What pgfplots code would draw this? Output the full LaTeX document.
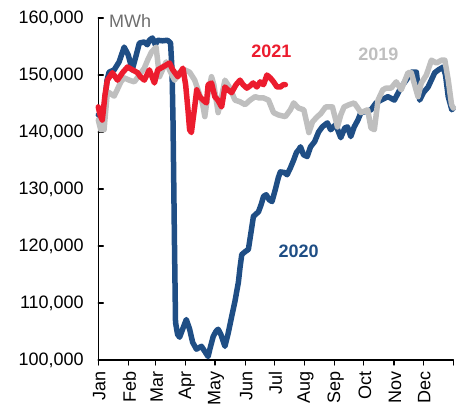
\documentclass[border=0pt]{standalone}
\usepackage{pgfplots}
\pgfplotsset{compat=1.18}
\usepackage{fontspec}
\setmainfont{Liberation Sans}
\definecolor{c2020}{HTML}{1F4E85}
\definecolor{c2021}{HTML}{EC1C2E}
\definecolor{c2019}{HTML}{BFBFBF}
\definecolor{cmwh}{HTML}{6E6E6E}
\begin{document}
\begin{tikzpicture}
\begin{axis}[
  at={(0,0)}, anchor=south west,
  scale only axis, width=355pt, height=342pt,
  xmin=0, xmax=365, ymin=100000, ymax=160000,
  axis x line*=bottom, axis y line*=left,
  axis line style={line width=1.3pt, -},
  tick align=inside, major tick length=5pt,
  tick style={line width=1.3pt, black},
  xtick style={yshift=-5pt},
  xtick={0,31,59,90,120,151,181,212,243,273,304,334,365},
  xticklabels={Jan,Feb,Mar,Apr,May,Jun,Jul,Aug,Sep,Oct,Nov,Dec,{}},
  xticklabel style={rotate=90, anchor=east, yshift=-1pt, xshift=-8pt},
  ytick={100000,110000,120000,130000,140000,150000,160000},
  yticklabels={{100,000},{110,000},{120,000},{130,000},{140,000},{150,000},{160,000}},
  scaled y ticks=false,
  yticklabel style={xshift=-11pt},
  ticklabel style={font=\fontsize{18}{20}\selectfont},
  clip=false,
  line join=round, line cap=round,
]
% 2020
\addplot[c2020, line width=5.5pt] coordinates {
(0,143000) (4.9,142500) (9.0,149100) (11.1,150500) (16.3,150900) (21.4,152300)
(26.6,154900) (30.8,153500) (34.9,150900) (39.0,153500) (42.2,155600) (47.3,155800)
(50.4,155300) (52.5,156100) (55.6,156500) (58.7,155300) (60.8,156100) (66.0,156000)
(71.2,156100) (74.3,155600) (75.8,150900) (76.8,142100) (78.4,119400) (79.4,106600)
(81.5,104500) (83.6,104000) (86.7,105400) (90.5,107100) (93.9,105400) (97.0,103100)
(100.9,101900) (106.1,102400) (109.5,101500) (112.9,100600) (114.7,101900) (118.1,104100)
(120.9,105000) (123.2,105400) (126.0,104500) (130.2,102400) (133.3,104500) (137.1,107600)
(140.5,110300) (144.0,113600) (145.7,116200) (147.5,118500) (150.9,119000) (154.3,119400)
(157.1,122500) (159.5,125200) (164.7,126000) (167.5,127300) (169.9,128700) (172.6,129000)
(175.8,128100) (178.6,127800) (182.0,129900) (185.1,132000) (187.2,133000) (191.3,132900)
(194.1,132500) (197.5,133700) (200.9,135100) (203.7,136400) (206.1,136900) (207.9,137400)
(211.0,136000) (214.8,135700) (218.2,137400) (222.4,138300) (226.5,140000) (230.3,140900)
(235.5,141600) (238.9,140400) (244.1,141300) (249.3,139000) (253.4,140700) (256.2,140900)
(259.6,139200) (263.1,140900) (266.9,142100) (270.0,143400) (275.2,143600) (280.4,143900)
(285.5,145100) (290.7,145600) (297.7,146200) (304.5,145600) (311.4,147900) (316.6,149100)
(321.8,150500) (327.0,150500) (330.4,145600) (334.2,146900) (339.1,147900) (345.9,150400)
(349.7,150900) (354.6,151400) (357.0,150000) (359.8,146200) (363.5,143900) (365,144200)
};
% 2019
\addplot[c2019, line width=5.5pt] coordinates {
(0,142100) (2.5,140400) (5.9,140400) (9.3,147000) (11.1,146900) (16.3,146300)
(19.4,147400) (23.2,148800) (26.6,149500) (31.8,149100) (37.0,148800) (42.2,150000)
(47.3,151200) (50.7,152600) (54.6,154000) (59.4,154900) (62.9,149700) (66.0,150900)
(69.8,152300) (73.2,150900) (78.4,149100) (83.6,150500) (88.8,150900) (93.9,150500)
(99.1,149100) (104.3,146500) (107.4,144800) (109.5,142700) (112.6,146500) (116.4,149700)
(118.8,148300) (123.2,143400) (127.1,146500) (130.2,149100) (135.4,147700) (140.5,145600)
(145.7,145300) (150.9,144800) (156.1,145600) (161.3,146200) (164.7,146000) (169.5,146000)
(175.0,145600) (180.2,143400) (185.1,143000) (192.3,142700) (197.5,143900) (200.9,145100)
(205.8,144200) (211.3,143900) (214.1,141800) (216.5,139900) (220.3,141800) (225.2,142700)
(228.6,143200) (233.8,144400) (240.7,144400) (245.9,140900) (249.3,143000) (252.7,144400)
(257.9,144800) (263.1,145100) (266.9,144200) (270.0,143400) (276.9,143900) (280.4,140700)
(283.8,140400) (287.6,145600) (292.5,147400) (295.9,147700) (301.1,147700) (306.3,148800)
(311.4,147400) (318.4,150400) (321.8,150400) (325.2,148300) (328.7,146200) (332.1,148600)
(337.3,150000) (342.5,152600) (347.7,152100) (352.8,152600) (356.3,152600) (359.8,149100)
(363.2,144800) (365,144200)
};
% 2021
\addplot[c2021, line width=5.5pt] coordinates {
(0,144400) (1.8,143000) (4.1,142100) (6.9,146500) (9.3,149100) (14.5,150400)
(19.7,149100) (24.9,150400) (30.0,151400) (35.2,150900) (40.4,150400) (43.2,149700)
(47.3,149100) (52.5,150900) (57.7,148600) (61.1,150900) (66.3,151400) (73.2,152100)
(76.6,150900) (81.8,149700) (87.0,151200) (89.8,148300) (92.2,143900) (93.9,140400)
(95.7,139900) (99.1,144400) (101.2,147400) (104.3,146200) (107.7,145600) (111.2,145100)
(112.9,148300) (116.4,148600) (119.8,146200) (122.9,145600) (126.8,144400) (130.2,147900)
(133.3,147400) (137.1,146900) (141.6,148300) (145.7,149100) (148.8,148300) (152.7,147700)
(156.1,148100) (159.2,148600) (163.0,147900) (166.4,148800) (169.9,148300) (173.4,150000)
(176.8,149500) (180.2,148800) (183.7,147900) (187.2,147900) (190.3,148300) (192.3,148300)
};
\node[anchor=base west, text=cmwh, font=\fontsize{18}{20}\selectfont, inner sep=0pt]
  at (axis cs:11,158400) {MWh};
\node[text=c2021, font=\fontsize{18}{20}\selectfont\bfseries, inner sep=0pt]
  at (axis cs:178,154200) {2021};
\node[text=c2019, font=\fontsize{18}{20}\selectfont\bfseries, inner sep=0pt]
  at (axis cs:288,153700) {2019};
\node[text=c2020, font=\fontsize{18}{20}\selectfont\bfseries, inner sep=0pt]
  at (axis cs:206,119000) {2020};
\end{axis}
\pgfresetboundingbox
\path (-98.3pt,-45pt) rectangle (361.7pt,360pt);
\end{tikzpicture}
\end{document}
